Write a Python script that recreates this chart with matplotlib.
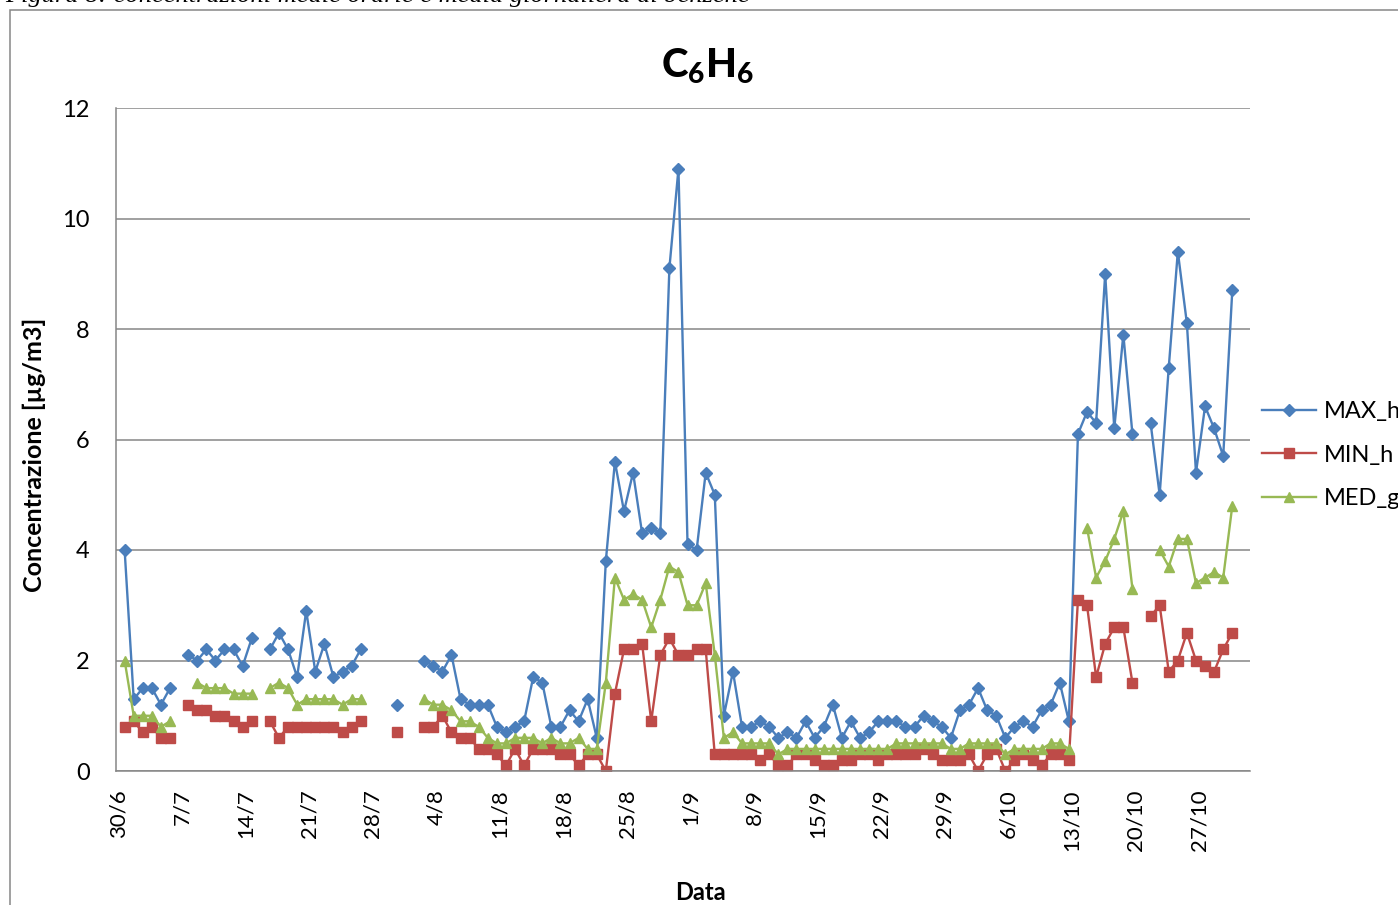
import numpy as np
import matplotlib
matplotlib.use('Agg')
import matplotlib.pyplot as plt
from matplotlib.patches import Rectangle
import matplotlib.transforms as mtransforms

nan = np.nan

# daily values, day 0 = 30/6, day 122 = 30/10
max_h = [4.0, 1.3, 1.5, 1.5, 1.2, 1.5, nan,
         2.1, 2.0, 2.2, 2.0, 2.2, 2.2, 1.9, 2.4, nan,
         2.2, 2.5, 2.2, 1.7, 2.9, 1.8, 2.3, 1.7, 1.8, 1.9, 2.2,
         nan, nan, nan, 1.2, nan, nan,
         2.0, 1.9, 1.8, 2.1, 1.3, 1.2, 1.2, 1.2, 0.8, 0.7,
         0.8, 0.9, 1.7, 1.6, 0.8, 0.8, 1.1, 0.9, 1.3, 0.6,
         3.8, 5.6, 4.7, 5.4, 4.3, 4.4, 4.3, 9.1, 10.9, 4.1, 4.0, 5.4, 5.0,
         1.0, 1.8, 0.8, 0.8, 0.9, 0.8, 0.6, 0.7, 0.6, 0.9,
         0.6, 0.8, 1.2, 0.6, 0.9, 0.6, 0.7, 0.9, 0.9, 0.9,
         0.8, 0.8, 1.0, 0.9, 0.8, 0.6, 1.1, 1.2, 1.5, 1.1,
         1.0, 0.6, 0.8, 0.9, 0.8, 1.1, 1.2, 1.6, 0.9,
         6.1, 6.5, 6.3, 9.0, 6.2, 7.9, 6.1, nan,
         6.3, 5.0, 7.3, 9.4, 8.1, 5.4, 6.6, 6.2, 5.7, 8.7]

min_h = [0.8, 0.9, 0.7, 0.8, 0.6, 0.6, nan,
         1.2, 1.1, 1.1, 1.0, 1.0, 0.9, 0.8, 0.9, nan,
         0.9, 0.6, 0.8, 0.8, 0.8, 0.8, 0.8, 0.8, 0.7, 0.8, 0.9,
         nan, nan, nan, 0.7, nan, nan,
         0.8, 0.8, 1.0, 0.7, 0.6, 0.6, 0.4, 0.4, 0.3, 0.1,
         0.4, 0.1, 0.4, 0.4, 0.4, 0.3, 0.3, 0.1, 0.3, 0.3,
         0.0, 1.4, 2.2, 2.2, 2.3, 0.9, 2.1, 2.4, 2.1, 2.1, 2.2, 2.2, 0.3,
         0.3, 0.3, 0.3, 0.3, 0.2, 0.3, 0.1, 0.1, 0.3, 0.3,
         0.2, 0.1, 0.1, 0.2, 0.2, 0.3, 0.3, 0.2, 0.3, 0.3,
         0.3, 0.3, 0.4, 0.3, 0.2, 0.2, 0.2, 0.3, 0.0, 0.3,
         0.4, 0.0, 0.2, 0.3, 0.2, 0.1, 0.3, 0.3, 0.2,
         3.1, 3.0, 1.7, 2.3, 2.6, 2.6, 1.6, nan,
         2.8, 3.0, 1.8, 2.0, 2.5, 2.0, 1.9, 1.8, 2.2, 2.5]

med_g = [2.0, 1.0, 1.0, 1.0, 0.8, 0.9, nan,
         nan, 1.6, 1.5, 1.5, 1.5, 1.4, 1.4, 1.4, nan,
         1.5, 1.6, 1.5, 1.2, 1.3, 1.3, 1.3, 1.3, 1.2, 1.3, 1.3,
         nan, nan, nan, nan, nan, nan,
         1.3, 1.2, 1.2, 1.1, 0.9, 0.9, 0.8, 0.6, 0.5, 0.5,
         0.6, 0.6, 0.6, 0.5, 0.6, 0.5, 0.5, 0.6, 0.4, 0.4,
         1.6, 3.5, 3.1, 3.2, 3.1, 2.6, 3.1, 3.7, 3.6, 3.0, 3.0, 3.4, 2.1,
         0.6, 0.7, 0.5, 0.5, 0.5, 0.5, 0.3, 0.4, 0.4, 0.4,
         0.4, 0.4, 0.4, 0.4, 0.4, 0.4, 0.4, 0.4, 0.4, 0.5,
         0.5, 0.5, 0.5, 0.5, 0.5, 0.4, 0.4, 0.5, 0.5, 0.5,
         0.5, 0.3, 0.4, 0.4, 0.4, 0.4, 0.5, 0.5, 0.4,
         nan, 4.4, 3.5, 3.8, 4.2, 4.7, 3.3, nan,
         nan, 4.0, 3.7, 4.2, 4.2, 3.4, 3.5, 3.6, 3.5, 4.8]

tick_days = list(range(0, 120, 7))
tick_labels = ['30/6', '7/7', '14/7', '21/7', '28/7', '4/8', '11/8', '18/8',
               '25/8', '1/9', '8/9', '15/9', '22/9', '29/9', '6/10', '13/10',
               '20/10', '27/10']

plt.rcParams['font.family'] = ['Lato', 'DejaVu Sans']
plt.rcParams['mathtext.fontset'] = 'custom'
plt.rcParams['mathtext.rm'] = 'Lato'
plt.rcParams['mathtext.bf'] = 'Lato:black'

W, H = 1398, 905
fig = plt.figure(figsize=(W / 100, H / 100), dpi=100)
ax = fig.add_axes([116 / W, 1 - 771 / H, (1250 - 116) / W, (771 - 108) / H])

days = np.arange(len(max_h))
gray = '#868686'
ax.plot(days, max_h, color='#4A7EBB', lw=1.7, marker='D', ms=6, label='MAX_h')
ax.plot(days, min_h, color='#BE4B48', lw=1.7, marker='s', ms=7, label='MIN_h')
ax.plot(days, med_g, color='#98B954', lw=1.7, marker='^', ms=7.5, label='MED_g')

ax.set_xlim(-0.95, 123.95)
ax.set_ylim(0, 12)
ax.set_yticks(range(0, 13, 2))
ax.grid(axis='y', color=gray, lw=1.1)
ax.set_axisbelow(True)
ax.set_xticks(tick_days)
ax.set_xticklabels(tick_labels, rotation=90)
ax.tick_params(axis='x', length=0, pad=13, labelsize=16)
ax.tick_params(axis='y', length=0, pad=19, labelsize=17)
offset = mtransforms.ScaledTranslation(-6 / 100, 0, fig.dpi_scale_trans)
for lab in ax.get_xticklabels():
    lab.set_transform(lab.get_transform() + offset)
for s in ['top', 'right']:
    ax.spines[s].set_visible(False)
for s in ['left', 'bottom']:
    ax.spines[s].set_color(gray)
    ax.spines[s].set_linewidth(1.1)

fig.text(708 / W, 1 - 66 / H, r'$\mathbf{C_6H_6}$', ha='center', va='center', fontsize=29)
fig.text(34 / W, 1 - 455 / H, 'Concentrazione [µg/m3]', rotation=90,
         ha='center', va='center', fontsize=18, fontweight='bold')
fig.text(700 / W, 1 - 892 / H, 'Data', ha='center', va='center',
         fontsize=17, fontweight='bold')

ax.legend(loc='center left', bbox_to_anchor=(1262 / W, 1 - 455 / H),
          bbox_transform=fig.transFigure, frameon=False, fontsize=17,
          handlelength=2.3, handletextpad=0.3, labelspacing=0.95,
          borderaxespad=0, borderpad=0)

# outer chart border and the cut caption above it
fig.patches.append(Rectangle((10 / W, -0.1), 1.2, 1.1 - 10 / H, transform=fig.transFigure,
                             fill=False, edgecolor=gray, lw=1.1))
fig.text(5 / W, 1 - 2 / H,
         'Figura 8: concentrazioni medie orarie e media giornaliera di benzene',
         family='Liberation Serif', style='italic', fontsize=19,
         ha='left', va='baseline')

fig.savefig('out.png', dpi=100)
